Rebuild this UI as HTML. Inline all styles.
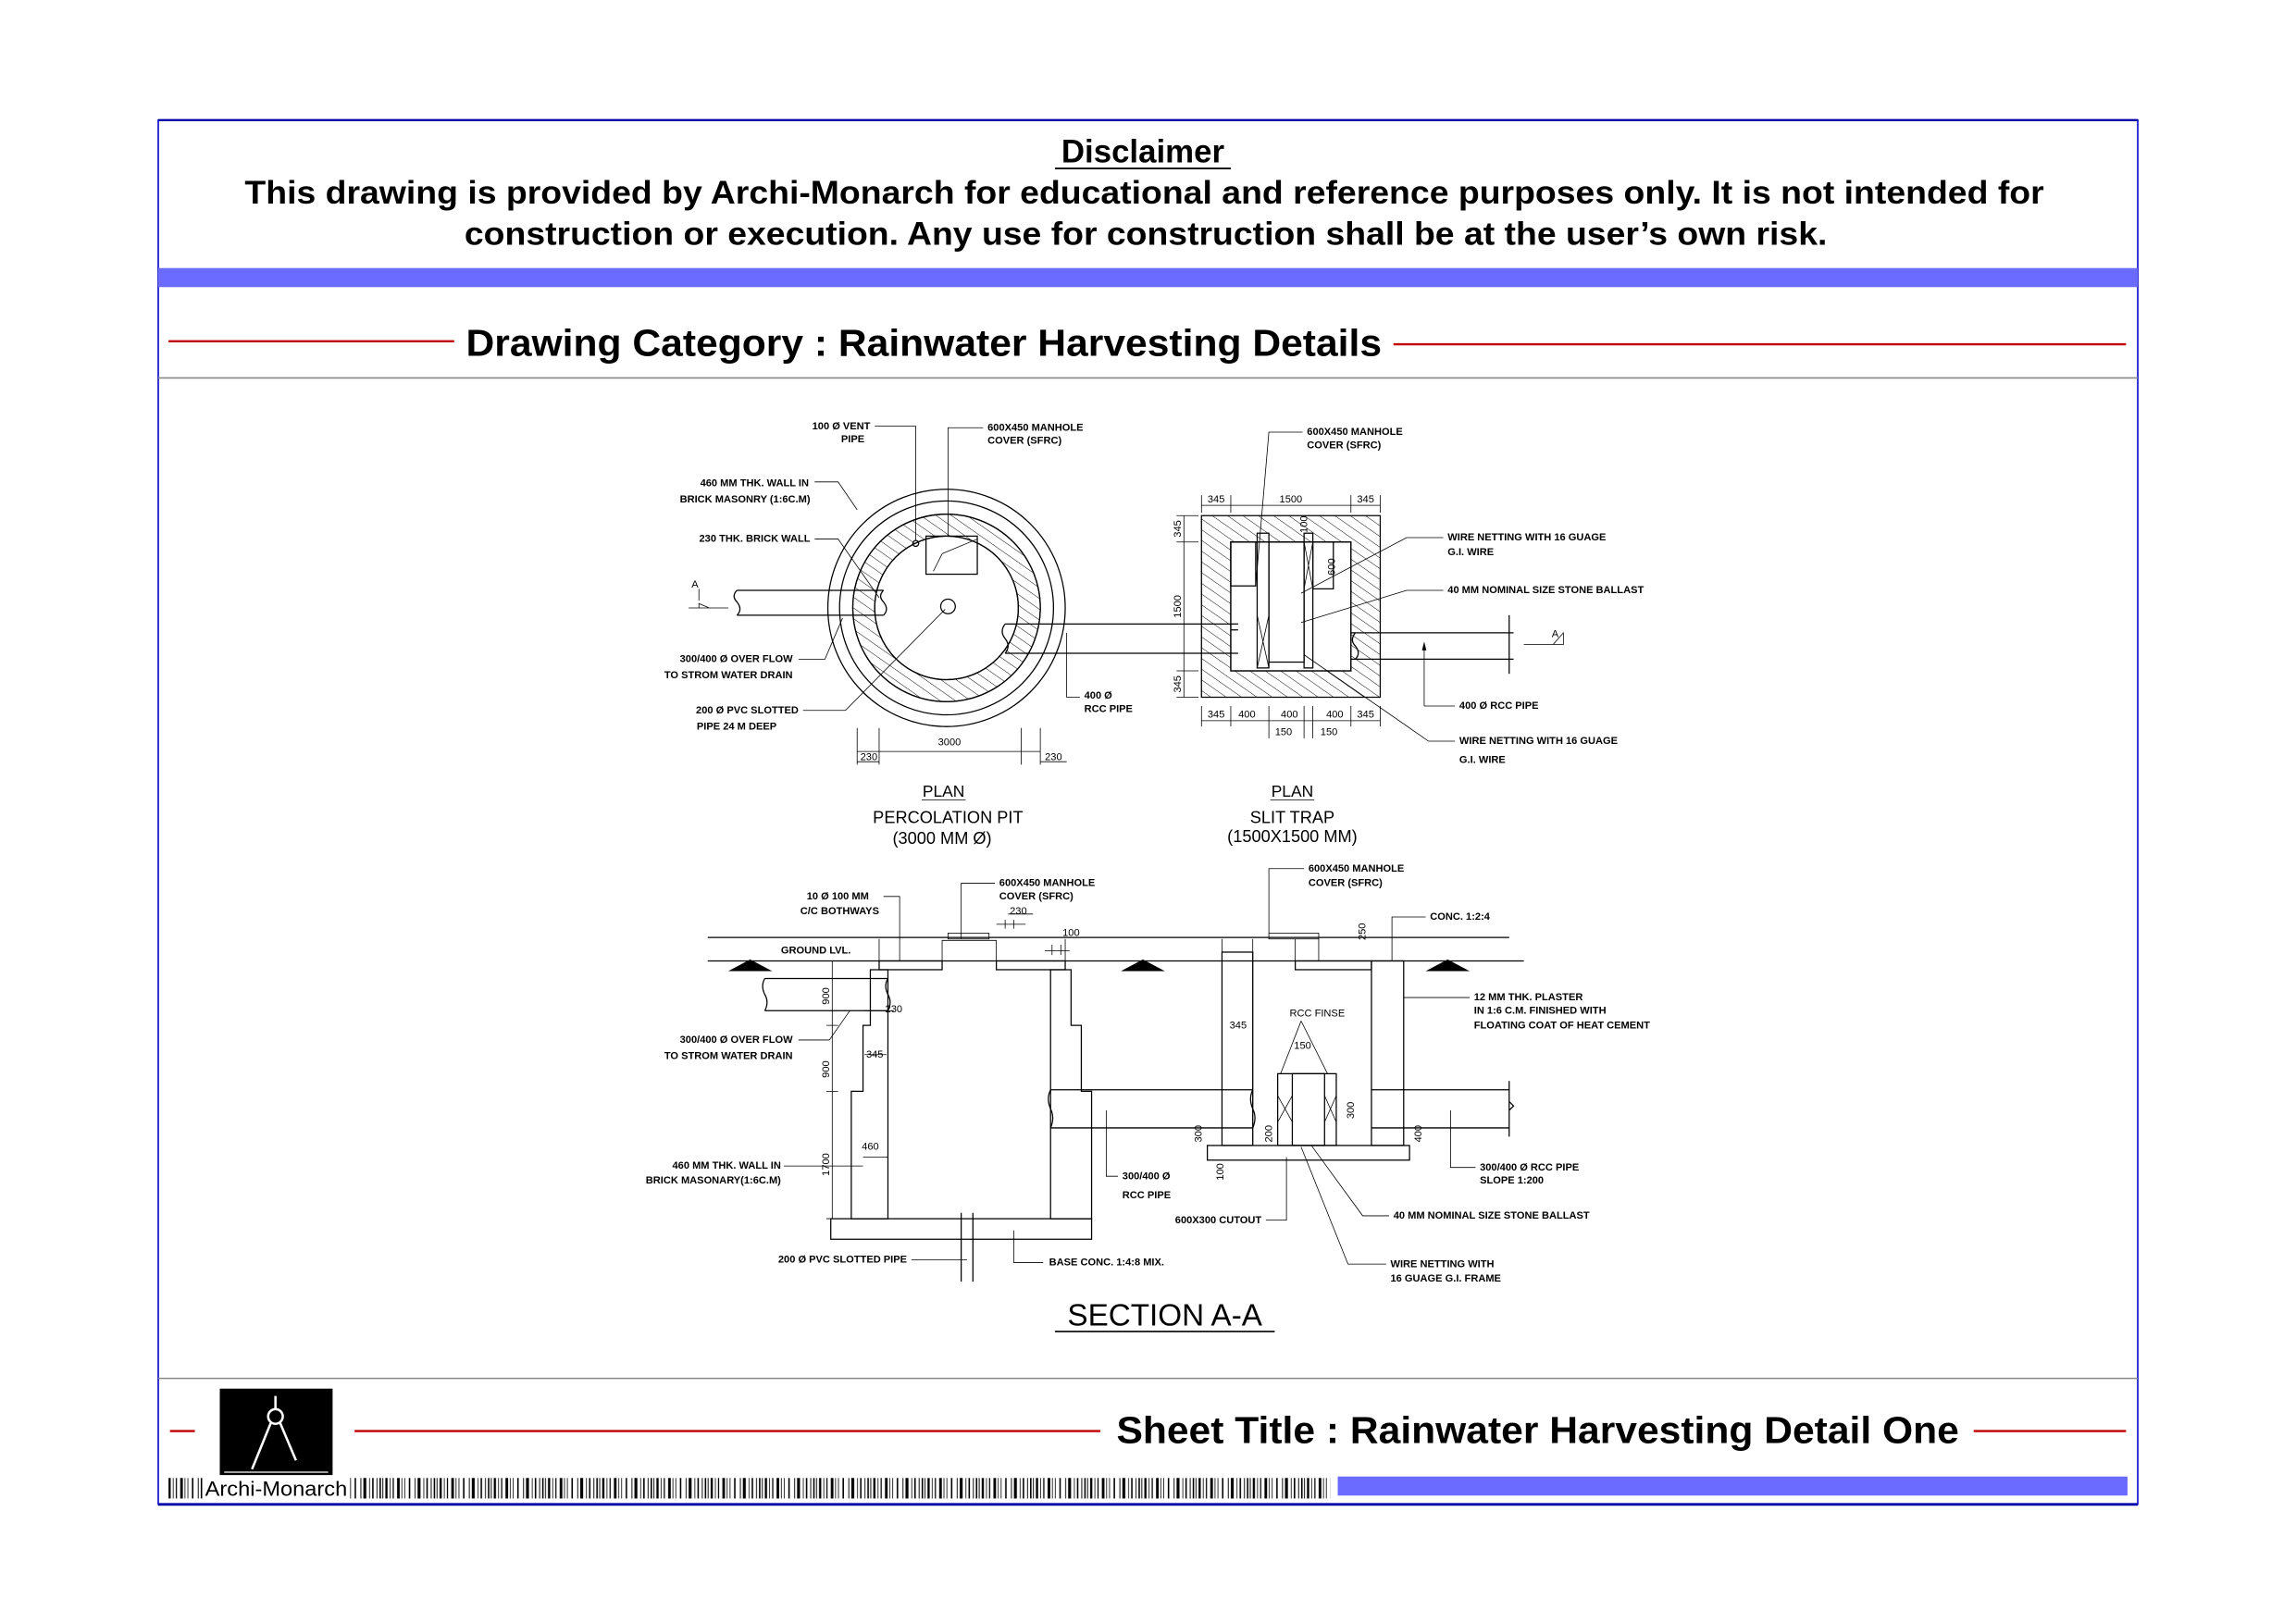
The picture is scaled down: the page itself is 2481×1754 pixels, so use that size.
<!DOCTYPE html>
<html><head><meta charset="utf-8">
<style>
html,body{margin:0;padding:0;background:#fff;}
svg{display:block;}
.t{font-family:"Liberation Sans Narrow","Liberation Sans",sans-serif;font-weight:bold;font-size:7px;fill:#000;}
.d{font-family:"Liberation Sans",sans-serif;font-size:7px;fill:#000;}
.big{font-family:"Liberation Sans",sans-serif;font-weight:bold;fill:#000;}
.nw{font-family:"Liberation Sans",sans-serif;font-weight:normal;fill:#000;}
.ln{stroke:#000;stroke-width:0.8;fill:none;}
.th{stroke:#000;stroke-width:0.5;fill:none;}
</style></head>
<body>
<svg width="2481" height="1754" viewBox="0 0 1567 1108" preserveAspectRatio="none" xmlns="http://www.w3.org/2000/svg">
<defs>
<pattern id="h" width="6" height="6" patternUnits="userSpaceOnUse" patternTransform="rotate(-55)">
<line x1="0" y1="0" x2="0" y2="6" stroke="#000" stroke-width="0.6"/></pattern>
<pattern id="b" width="8" height="8" patternUnits="userSpaceOnUse">
<circle cx="2" cy="2" r="2" fill="none" stroke="#000" stroke-width="0.6"/>
<circle cx="6" cy="5.5" r="2.2" fill="none" stroke="#000" stroke-width="0.6"/>
<circle cx="2" cy="7" r="1.3" fill="none" stroke="#000" stroke-width="0.5"/></pattern>
<pattern id="bc" width="37" height="14" patternUnits="userSpaceOnUse">
<rect x="0" y="0" width="1" height="14"/><rect x="2" width="0.6" height="14"/><rect x="4" width="1.5" height="14"/>
<rect x="7" width="0.5" height="14"/><rect x="9" width="0.8" height="14"/><rect x="12" width="1.8" height="14"/>
<rect x="15" width="0.5" height="14"/><rect x="17" width="0.5" height="14"/><rect x="20" width="1" height="14"/>
<rect x="24" width="0.6" height="14"/><rect x="26" width="2" height="14"/><rect x="30" width="0.5" height="14"/>
<rect x="32" width="1" height="14"/><rect x="35" width="0.6" height="14"/></pattern>
</defs>

<rect x="108" y="82" width="1351" height="945" fill="none" stroke="#0000cc" stroke-width="1"/>
<line x1="108" y1="82" x2="1459" y2="82" stroke="#0000aa" stroke-width="1.5"/>
<line x1="108" y1="1027" x2="1459" y2="1027" stroke="#0000aa" stroke-width="1.8"/>
<rect x="108" y="183" width="1351" height="13" fill="#6b6bff"/>
<line x1="108" y1="258" x2="1459" y2="258" stroke="#888" stroke-width="1"/>
<line x1="108" y1="941" x2="1459" y2="941" stroke="#888" stroke-width="1"/>

<text class="big" x="780" y="111" font-size="22" text-anchor="middle">Disclaimer</text>
<line x1="720" y1="115" x2="840" y2="115" stroke="#000" stroke-width="1.2"/>
<text class="big" x="781" y="139" font-size="22" text-anchor="middle" textLength="1228" lengthAdjust="spacingAndGlyphs">This drawing is provided by Archi-Monarch for educational and reference purposes only. It is not intended for</text>
<text class="big" x="782" y="167" font-size="22" text-anchor="middle" textLength="930" lengthAdjust="spacingAndGlyphs">construction or execution. Any use for construction shall be at the user’s own risk.</text>

<line x1="115" y1="233" x2="310" y2="233" stroke="#c00000" stroke-width="1.5"/>
<line x1="951" y1="235" x2="1451" y2="235" stroke="#c00000" stroke-width="1.5"/>
<text class="big" x="318" y="243" font-size="26" textLength="625" lengthAdjust="spacingAndGlyphs">Drawing Category : Rainwater Harvesting Details</text>

<line x1="116" y1="977" x2="133" y2="977" stroke="#c00000" stroke-width="1.5"/>
<line x1="242" y1="977" x2="751" y2="977" stroke="#c00000" stroke-width="1.5"/>
<line x1="1347" y1="977" x2="1451" y2="977" stroke="#c00000" stroke-width="1.5"/>
<text class="big" x="762" y="985" font-size="26" textLength="575" lengthAdjust="spacingAndGlyphs">Sheet Title : Rainwater Harvesting Detail One</text>
<rect x="150" y="948" width="77" height="59" fill="#000"/>
<g stroke="#fff" fill="none" stroke-width="1.6">
<line x1="188" y1="953" x2="188" y2="962"/><circle cx="188" cy="967" r="5"/>
<line x1="185" y1="971" x2="172" y2="1003"/><line x1="191" y1="971" x2="202" y2="997"/>
<line x1="153" y1="1005" x2="224" y2="1005" stroke-width="0.8"/></g>
<rect x="114" y="1009" width="794" height="14" fill="url(#bc)"/>
<rect x="138" y="1008" width="100" height="16" fill="#fff"/>
<text x="140" y="1021" font-family="Liberation Sans,sans-serif" font-size="14" textLength="97" lengthAdjust="spacingAndGlyphs">Archi-Monarch</text>
<rect x="913" y="1008" width="539" height="13" fill="#6b6bff"/>

<circle cx="646" cy="415" r="81" class="ln"/>
<circle cx="646" cy="415" r="73" class="ln"/>
<path d="M646,351 a64,64 0 1,0 0.01,0 Z M646,366 a49,49 0 1,1 -0.01,0 Z" fill="url(#h)" fill-rule="evenodd" stroke="#000" stroke-width="0.8"/>
<circle cx="646" cy="415" r="64" class="ln"/><circle cx="646" cy="415" r="49" class="ln"/>
<rect x="632" y="366" width="35" height="26" fill="#fff" class="ln"/>
<line x1="637" y1="390" x2="643" y2="378" class="th"/><line x1="643" y1="378" x2="667" y2="368" class="th"/>
<circle cx="647" cy="414" r="5" fill="#fff" class="ln"/>
<circle cx="625" cy="371" r="2" class="ln"/>
<path d="M503,403 L603,403 M503,420 L603,420 M503,403 q-4,4 0,8 q4,5 0,9 M603,403 q-4,4 0,8 q4,5 0,9" class="ln"/>
<path d="M686,426 L845,426 M686,446 L845,446 M686,426 q-4,5 0,10 q4,5 0,10" class="ln"/>
<path d="M470,415 L497,415 M477,402 L477,410 M477,412 l7,3 l-7,0 z" class="th"/>
<text class="d" x="472" y="401" font-size="9">A</text>
<path d="M597,291 H625 V369 M671,292 H647 V366 M556,329 H572 L585,348 M556,368 H572 L600,408 M545,450 H563 L575,422 M548,485 H577 L645,416 M737,476 H728 V432" class="th"/>
<text class="t" x="594" y="293" text-anchor="end">100 Ø VENT</text>
<text class="t" x="590" y="302" text-anchor="end">PIPE</text>
<text class="t" x="674" y="294">600X450 MANHOLE</text>
<text class="t" x="674" y="303">COVER (SFRC)</text>
<text class="t" x="552" y="332" text-anchor="end">460 MM THK. WALL IN</text>
<text class="t" x="553" y="343" text-anchor="end">BRICK MASONRY (1:6C.M)</text>
<text class="t" x="553" y="370" text-anchor="end">230 THK. BRICK WALL</text>
<text class="t" x="541" y="452" text-anchor="end">300/400 Ø OVER FLOW</text>
<text class="t" x="541" y="463" text-anchor="end">TO STROM WATER DRAIN</text>
<text class="t" x="545" y="487" text-anchor="end">200 Ø PVC SLOTTED</text>
<text class="t" x="530" y="498" text-anchor="end">PIPE 24 M DEEP</text>
<text class="t" x="740" y="477">400 Ø</text>
<text class="t" x="740" y="486">RCC PIPE</text>
<path d="M585,497 V522 M600,497 V522 M697,497 V522 M710,497 V522 M585,513 H710 M585,520 H600 M710,520 H728" class="th"/>
<text class="d" x="648" y="509" text-anchor="middle">3000</text>
<text class="d" x="593" y="519" text-anchor="middle">230</text>
<text class="d" x="719" y="519" text-anchor="middle">230</text>
<text class="nw" x="644" y="544" font-size="11" text-anchor="middle">PLAN</text>
<line x1="629" y1="546" x2="659" y2="546" class="th"/>
<text class="nw" x="647" y="562" font-size="11.5" text-anchor="middle">PERCOLATION PIT</text>
<text class="nw" x="643" y="576" font-size="11.5" text-anchor="middle">(3000 MM Ø)</text>

<path d="M820,352 H942 V476 H820 Z M840,370 V458 H922 V370 Z" fill="url(#h)" fill-rule="evenodd" stroke="#000" stroke-width="0.8"/>
<rect x="840" y="370" width="82" height="88" fill="#fff" class="ln"/>
<rect x="840" y="370" width="17" height="30" fill="#fff" class="ln"/>
<rect x="858" y="364" width="8" height="92" fill="#fff" class="ln"/>
<rect x="866" y="370" width="24" height="82" fill="url(#b)" class="ln"/>
<rect x="890" y="364" width="6" height="92" fill="#fff" class="ln"/>
<rect x="896" y="370" width="14" height="32" fill="#fff" class="ln"/>
<path d="M858,420 L866,456 M866,420 L858,456 M890,370 L896,402 M896,370 L890,402" class="th"/>
<path d="M840,430 H845 M922,432 H1033 M922,450 H1033 M1030,420 V460 M925,432 q-4,5 0,9 q4,5 0,9" class="ln"/>
<path d="M1040,440 H1062 M1060,440 l7,-8 v8 z" class="th"/>
<text class="d" x="1059" y="435" font-size="9">A</text>
<path d="M972,482 V440" class="th"/><path d="M972,438 l-1.5,6 h3 z" fill="#000"/>
<path d="M820,338 V350 M840,338 V350 M922,338 V350 M942,338 V350 M820,345 H942 M803,352 H818 M803,370 H818 M803,458 H818 M803,476 H818 M808,352 V476 M820,482 V496 M840,482 V496 M866,482 V504 M890,482 V504 M896,482 V504 M922,482 V496 M942,482 V496 M820,492 H942" class="th"/>
<text class="d" x="830" y="343" text-anchor="middle">345</text><text class="d" x="881" y="343" text-anchor="middle">1500</text><text class="d" x="932" y="343" text-anchor="middle">345</text>
<text class="d" transform="translate(806,361) rotate(-90)" text-anchor="middle">345</text>
<text class="d" transform="translate(806,414) rotate(-90)" text-anchor="middle">1500</text>
<text class="d" transform="translate(806,467) rotate(-90)" text-anchor="middle">345</text>
<text class="d" transform="translate(911,387) rotate(-90)" text-anchor="middle">600</text>
<text class="d" transform="translate(892,358) rotate(-90)" text-anchor="middle">100</text>
<text class="d" x="830" y="490" text-anchor="middle">345</text><text class="d" x="851" y="490" text-anchor="middle">400</text><text class="d" x="880" y="490" text-anchor="middle">400</text><text class="d" x="911" y="490" text-anchor="middle">400</text><text class="d" x="932" y="490" text-anchor="middle">345</text>
<text class="d" x="876" y="502" text-anchor="middle">150</text><text class="d" x="907" y="502" text-anchor="middle">150</text>
<path d="M889,295 H866 L857,400 M985,367 H960 L888,405 M985,403 H960 L888,425 M993,482 H972 M993,506 H975 L890,447" class="th"/>
<text class="t" x="892" y="297">600X450 MANHOLE</text>
<text class="t" x="892" y="306">COVER (SFRC)</text>
<text class="t" x="988" y="369">WIRE NETTING WITH 16 GUAGE</text>
<text class="t" x="988" y="379">G.I. WIRE</text>
<text class="t" x="988" y="405">40 MM NOMINAL SIZE STONE BALLAST</text>
<text class="t" x="996" y="484">400 Ø RCC PIPE</text>
<text class="t" x="996" y="508">WIRE NETTING WITH 16 GUAGE</text>
<text class="t" x="996" y="521">G.I. WIRE</text>
<text class="nw" x="882" y="544" font-size="11" text-anchor="middle">PLAN</text>
<line x1="867" y1="546" x2="897" y2="546" class="th"/>
<text class="nw" x="882" y="562" font-size="11.5" text-anchor="middle">SLIT TRAP</text>
<text class="nw" x="882" y="575" font-size="11.5" text-anchor="middle">(1500X1500 MM)</text>

<path d="M483,640 H1030 M483,656 H1040" class="ln"/>
<path d="M497,663 L512,655 L527,663 Z M765,663 L780,655 L795,663 Z M973,663 L988,655 L1003,663 Z" fill="#000"/>
<path d="M594,662 H606 V832 H581 V745 H589 V700 H594 Z" fill="url(#h)" class="ln"/>
<path d="M717,662 H731 V700 H738 V745 H745 V832 H717 Z" fill="url(#h)" class="ln"/>
<rect x="600" y="656" width="43" height="6" fill="#fff" class="ln"/>
<rect x="680" y="656" width="47" height="6" fill="#fff" class="ln"/>
<path d="M643,656 V642 H680 V656 M600,641 V656 M727,641 V656" class="th"/>
<rect x="647" y="637" width="28" height="4" fill="#fff" class="th"/>
<rect x="567" y="832" width="178" height="14" fill="#fff" class="ln"/>
<path d="M656,828 V875 M664,828 V875" class="ln"/>
<path d="M522,668 H606 M522,690 H606 M522,668 q-3,5 0,11 q3,5 0,11 M606,668 q-3,5 0,11 q3,5 0,11" class="ln"/>
<path d="M717,744 H855 M717,770 H855 M717,744 q-3,6 0,13 q3,6 0,13 M855,744 q-3,6 0,13 q3,6 0,13 M936,744 H1030 M936,770 H1030 M1030,738 V776 M1030,752 l3,3 l-3,3" class="ln"/>
<rect x="834" y="650" width="21" height="132" fill="url(#h)" class="ln"/>
<rect x="936" y="656" width="22" height="126" fill="url(#h)" class="ln"/>
<path d="M834,641 V650 M855,641 V782 M884,656 V641 M900,641 V656" class="th"/>
<rect x="866" y="637" width="34" height="4" fill="#fff" class="th"/>
<rect x="884" y="656" width="52" height="6" fill="#fff" class="ln"/>
<rect x="824" y="782" width="138" height="10" fill="#fff" class="ln"/>
<rect x="872" y="733" width="40" height="49" fill="#fff" class="ln"/>
<rect x="882" y="733" width="22" height="49" fill="url(#b)" class="ln"/>
<path d="M872,748 L882,766 M882,748 L872,766 M904,748 L912,766 M912,748 L904,766 M888,697 L874,733 M888,697 L906,733" class="th"/>
<path d="M568,656 V832 M564,700 H572 M564,745 H572 M564,832 H572 M590,690 H610 M590,720 H605 M589,790 H606" class="th"/>
<text class="d" transform="translate(566,680) rotate(-90)" text-anchor="middle">900</text>
<text class="d" transform="translate(566,730) rotate(-90)" text-anchor="middle">900</text>
<text class="d" transform="translate(566,795) rotate(-90)" text-anchor="middle">1700</text>
<text class="d" x="610" y="691" text-anchor="middle">230</text>
<text class="d" x="597" y="722" text-anchor="middle">345</text>
<text class="d" x="594" y="785" text-anchor="middle">460</text>
<text class="d" x="695" y="624" text-anchor="middle">230</text>
<text class="d" x="731" y="639" text-anchor="middle">100</text>
<path d="M686,628 V634 M692,628 V634 M680,631 H700 M718,645 V652 M724,645 V652 M713,649 H730 M688,624 H705" class="th"/>
<text class="d" transform="translate(932,636) rotate(-90)" text-anchor="middle">250</text>
<text class="d" transform="translate(820,774) rotate(-90)" text-anchor="middle">300</text>
<text class="d" transform="translate(868,774) rotate(-90)" text-anchor="middle">200</text>
<text class="d" transform="translate(924,758) rotate(-90)" text-anchor="middle">300</text>
<text class="d" transform="translate(970,774) rotate(-90)" text-anchor="middle">400</text>
<text class="d" transform="translate(835,800) rotate(-90)" text-anchor="middle">100</text>
<text class="d" x="845" y="702" text-anchor="middle">345</text>
<text class="d" x="889" y="716" text-anchor="middle">150</text>
<text class="d" x="899" y="694" font-size="8" text-anchor="middle">RCC FINSE</text>
<path d="M603,612 H614 V656 M679,603 H656 V641 M545,710 H566 L580,690 M535,796 H589 M622,860 H660 M712,862 H692 V840 M763,803 H755 V758 M864,833 H878 V790 M890,593 H866 V637 M973,626 H950 V656 M1003,681 H958 M1007,797 H990 V758 M948,830 H930 L895,782 M946,863 H920 L888,783" class="th"/>
<text class="t" x="593" y="614" text-anchor="end">10 Ø 100 MM</text>
<text class="t" x="600" y="624" text-anchor="end">C/C BOTHWAYS</text>
<text class="t" x="682" y="605">600X450 MANHOLE</text>
<text class="t" x="682" y="614">COVER (SFRC)</text>
<text class="t" x="533" y="651">GROUND LVL.</text>
<text class="t" x="541" y="712" text-anchor="end">300/400 Ø OVER FLOW</text>
<text class="t" x="541" y="723" text-anchor="end">TO STROM WATER DRAIN</text>
<text class="t" x="533" y="798" text-anchor="end">460 MM THK. WALL IN</text>
<text class="t" x="533" y="808" text-anchor="end">BRICK MASONARY(1:6C.M)</text>
<text class="t" x="619" y="862" text-anchor="end">200 Ø PVC SLOTTED PIPE</text>
<text class="t" x="716" y="864">BASE CONC. 1:4:8 MIX.</text>
<text class="t" x="766" y="805">300/400 Ø</text>
<text class="t" x="766" y="818">RCC PIPE</text>
<text class="t" x="861" y="835" text-anchor="end">600X300 CUTOUT</text>
<text class="t" x="893" y="595">600X450 MANHOLE</text>
<text class="t" x="893" y="605">COVER (SFRC)</text>
<text class="t" x="976" y="628">CONC. 1:2:4</text>
<text class="t" x="1006" y="683">12 MM THK. PLASTER</text>
<text class="t" x="1006" y="692">IN 1:6 C.M. FINISHED WITH</text>
<text class="t" x="1006" y="702">FLOATING COAT OF HEAT CEMENT</text>
<text class="t" x="1010" y="799">300/400 Ø RCC PIPE</text>
<text class="t" x="1010" y="808">SLOPE 1:200</text>
<text class="t" x="951" y="832">40 MM NOMINAL SIZE STONE BALLAST</text>
<text class="t" x="949" y="865">WIRE NETTING WITH</text>
<text class="t" x="949" y="875">16 GUAGE G.I. FRAME</text>
<text class="nw" x="795" y="905" font-size="21" text-anchor="middle">SECTION A-A</text>
<line x1="720" y1="909" x2="870" y2="909" stroke="#000" stroke-width="1"/>
</svg>
</body></html>
